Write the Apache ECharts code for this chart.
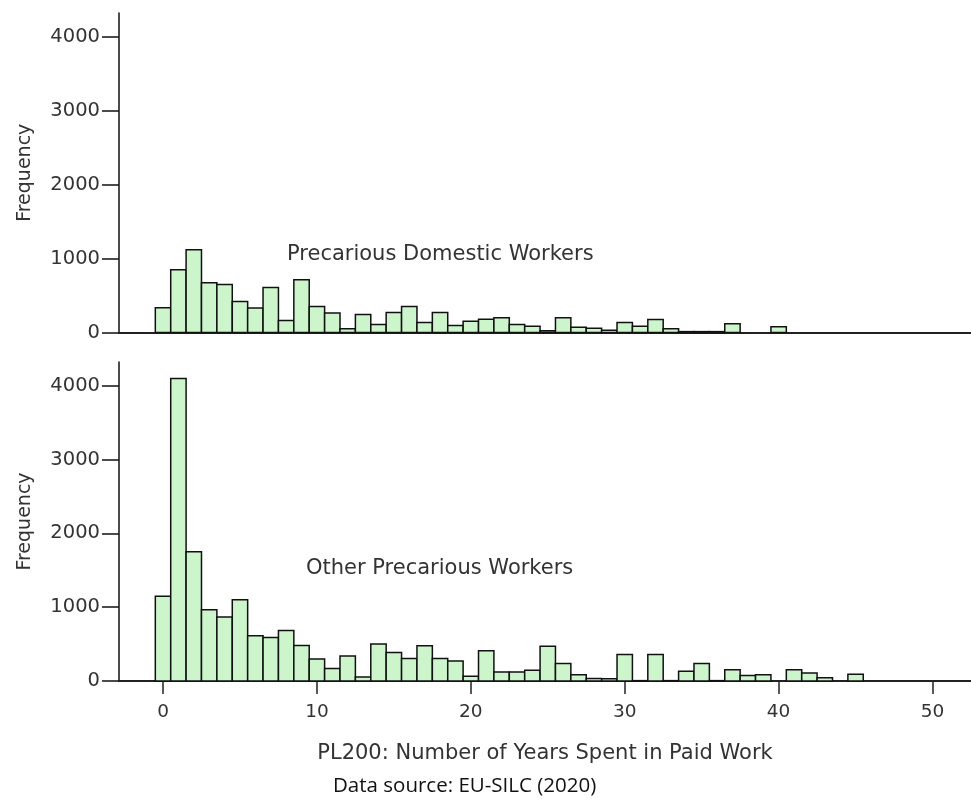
<!DOCTYPE html>
<html>
<head>
<meta charset="utf-8">
<script src="https://cdn.jsdelivr.net/npm/echarts@6/dist/echarts.min.js"></script>
<style>
  html, body { margin: 0; padding: 0; background: #ffffff; }
  #chart { width: 971px; height: 807px; }
</style>
</head>
<body>
<div id="chart"></div>
<script>
// Years spent in paid work (bin centres)
const domesticYears = [0,1,2,3,4,5,6,7,8,9,10,11,12,13,14,15,16,17,18,19,20,21,22,23,24,25,26,27,28,29,30,31,32,33,34,35,36,37,38,39,40];
const domesticFreq  = [335,850,1120,673,650,420,330,610,163,714,352,262,50,244,108,271,352,135,271,95,153,180,199,108,86,25,199,72,58,30,135,86,176,50,12,12,12,118,0,0,77];

const otherYears = [0,1,2,3,4,5,6,7,8,9,10,11,12,13,14,15,16,17,18,19,20,21,22,23,24,25,26,27,28,29,30,31,32,33,34,35,36,37,38,39,40,41,42,43,44,45];
const otherFreq  = [1147,4095,1751,966,867,1102,612,589,685,481,299,168,340,55,500,385,304,476,304,272,64,408,122,122,145,472,236,86,35,30,358,5,358,5,132,236,5,154,73,86,0,154,109,45,0,91];

const xTicks = [0,10,20,30,40,50];
const yTicks = [0,1000,2000,3000,4000];

const panelLabels = ['Precarious Domestic Workers', 'Other Precarious Workers'];
const xTitle = 'PL200: Number of Years Spent in Paid Work';
const yTitle = 'Frequency';
const sourceNote = 'Data source: EU-SILC (2020)';

const X_MIN = -2.86, X_MAX = 52.5, Y_MAX = 4320;
const FONT = 'DejaVu Sans';
const TXT = '#333333';

function toPairs(xs, ys) {
  const out = [];
  for (let i = 0; i < xs.length; i++) if (ys[i] > 0) out.push([xs[i], ys[i]]);
  return out;
}

function renderBin(params, api) {
  const x = api.value(0), v = api.value(1);
  const p1 = api.coord([x - 0.5, v]);
  const p2 = api.coord([x + 0.5, 0]);
  return {
    type: 'rect',
    shape: { x: p1[0], y: p1[1], width: p2[0] - p1[0], height: p2[1] - p1[1] },
    style: { fill: '#ccf5cc', stroke: '#111111', lineWidth: 1.5 }
  };
}

function yAxisCfg(gridIndex) {
  return {
    type: 'value', gridIndex: gridIndex, min: 0, max: Y_MAX,
    axisLine: { show: true, onZero: false, lineStyle: { color: '#111111', width: 1.5 } },
    axisTick: { show: true, inside: false, length: 17, customValues: yTicks, lineStyle: { color: '#111111', width: 1.5 } },
    axisLabel: { customValues: yTicks, formatter: function (v) { return String(v); }, fontFamily: FONT, fontSize: 19.5, color: TXT, margin: 19 },
    splitLine: { show: false },
    name: yTitle, nameLocation: 'middle', nameGap: 84,
    nameTextStyle: { fontFamily: FONT, fontSize: 19, color: TXT }
  };
}

const chart = echarts.init(document.getElementById('chart'), null, { renderer: 'canvas' });
chart.setOption({
  backgroundColor: '#ffffff',
  animation: false,
  grid: [
    { left: 119, right: 0, top: 13, height: 319.5 },
    { left: 119, right: 0, top: 362, height: 319 }
  ],
  xAxis: [
    {
      type: 'value', gridIndex: 0, min: X_MIN, max: X_MAX,
      axisLine: { show: true, onZero: false, lineStyle: { color: '#222222', width: 2 } },
      axisTick: { show: false }, axisLabel: { show: false }, splitLine: { show: false }
    },
    {
      type: 'value', gridIndex: 1, min: X_MIN, max: X_MAX,
      axisLine: { show: true, onZero: false, lineStyle: { color: '#222222', width: 2 } },
      axisTick: { show: true, length: 13, customValues: xTicks, lineStyle: { color: '#222222', width: 1.5 } },
      axisLabel: { customValues: xTicks, fontFamily: FONT, fontSize: 18.5, color: TXT, margin: 22 },
      splitLine: { show: false },
      name: xTitle, nameLocation: 'middle', nameGap: 62,
      nameTextStyle: { fontFamily: FONT, fontSize: 21, color: TXT }
    }
  ],
  yAxis: [ yAxisCfg(0), yAxisCfg(1) ],
  series: [
    { type: 'custom', xAxisIndex: 0, yAxisIndex: 0, renderItem: renderBin, data: toPairs(domesticYears, domesticFreq) },
    { type: 'custom', xAxisIndex: 1, yAxisIndex: 1, renderItem: renderBin, data: toPairs(otherYears, otherFreq) }
  ],
  graphic: [
    { type: 'text', left: 287, top: 244, style: { text: panelLabels[0], fontFamily: FONT, fontSize: 21, fill: TXT } },
    { type: 'text', left: 306, top: 558, style: { text: panelLabels[1], fontFamily: FONT, fontSize: 21, fill: TXT } },
    { type: 'text', left: 333, top: 776, style: { text: sourceNote, fontFamily: 'Open Sans', fontSize: 20.5, fill: '#111111' } }
  ]
});
</script>
</body>
</html>
